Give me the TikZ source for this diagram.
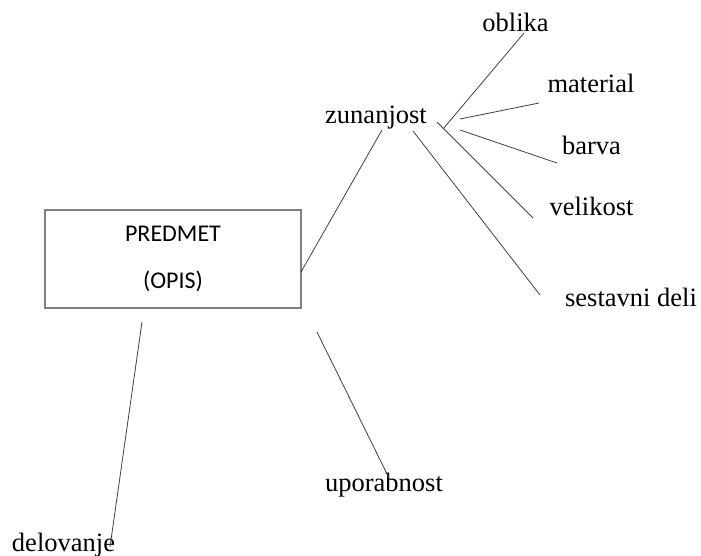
\documentclass[tikz,border=0pt]{standalone}
\usepackage{fontspec}
\setmainfont{Liberation Serif}
\newfontfamily\boxfont{Carlito}
\begin{document}
\begin{tikzpicture}[x=1pt,y=-1pt,
  lbl/.style={anchor=base,inner sep=0pt,font=\fontsize{26.5}{30}\selectfont},
  link/.style={draw=black!75,line width=0.8pt},
  mainbox/.style={draw=black!50,line width=1.2pt,minimum width=256pt,minimum height=98pt,
    align=center,inner sep=0pt,font=\boxfont\fontsize{24}{47}\selectfont}]
\useasboundingbox (0,0) rectangle (701,555);
% main box
\node[mainbox] (box) at (173,259) {PREDMET\\(OPIS)};
% labels
\node[lbl] (zun) at (376,123) {zunanjost};
\node[lbl] (obl) at (515.5,31) {oblika};
\node[lbl] (mat) at (591,92) {material};
\node[lbl] (bar) at (591.5,154) {barva};
\node[lbl] (vel) at (591.5,215) {velikost};
\node[lbl] (ses) at (631,306) {sestavni deli};
\node[lbl] (upo) at (384,491) {uporabnost};
\node[lbl] (del) at (63.5,551) {delovanje};
% connector end points
\coordinate (a1) at (301,272); \coordinate (b1) at (382,130);
\coordinate (a2) at (413,131); \coordinate (b2) at (540,295);
\coordinate (a3) at (437,122); \coordinate (b3) at (533,218);
\coordinate (a4) at (443,129); \coordinate (b4) at (524,33);
\coordinate (a5) at (460,119); \coordinate (b5) at (539,103);
\coordinate (a6) at (460,130); \coordinate (b6) at (557,163);
\coordinate (a7) at (142,322); \coordinate (b7) at (110,547);
\coordinate (a8) at (317,332); \coordinate (b8) at (390,480);
% connectors
\draw[link] (a1) -- (b1);
\draw[link] (a2) -- (b2);
\draw[link] (a3) -- (b3);
\draw[link] (a4) -- (b4);
\draw[link] (a5) -- (b5);
\draw[link] (a6) -- (b6);
\draw[link] (a7) -- (b7);
\draw[link] (a8) -- (b8);
\end{tikzpicture}
\end{document}
